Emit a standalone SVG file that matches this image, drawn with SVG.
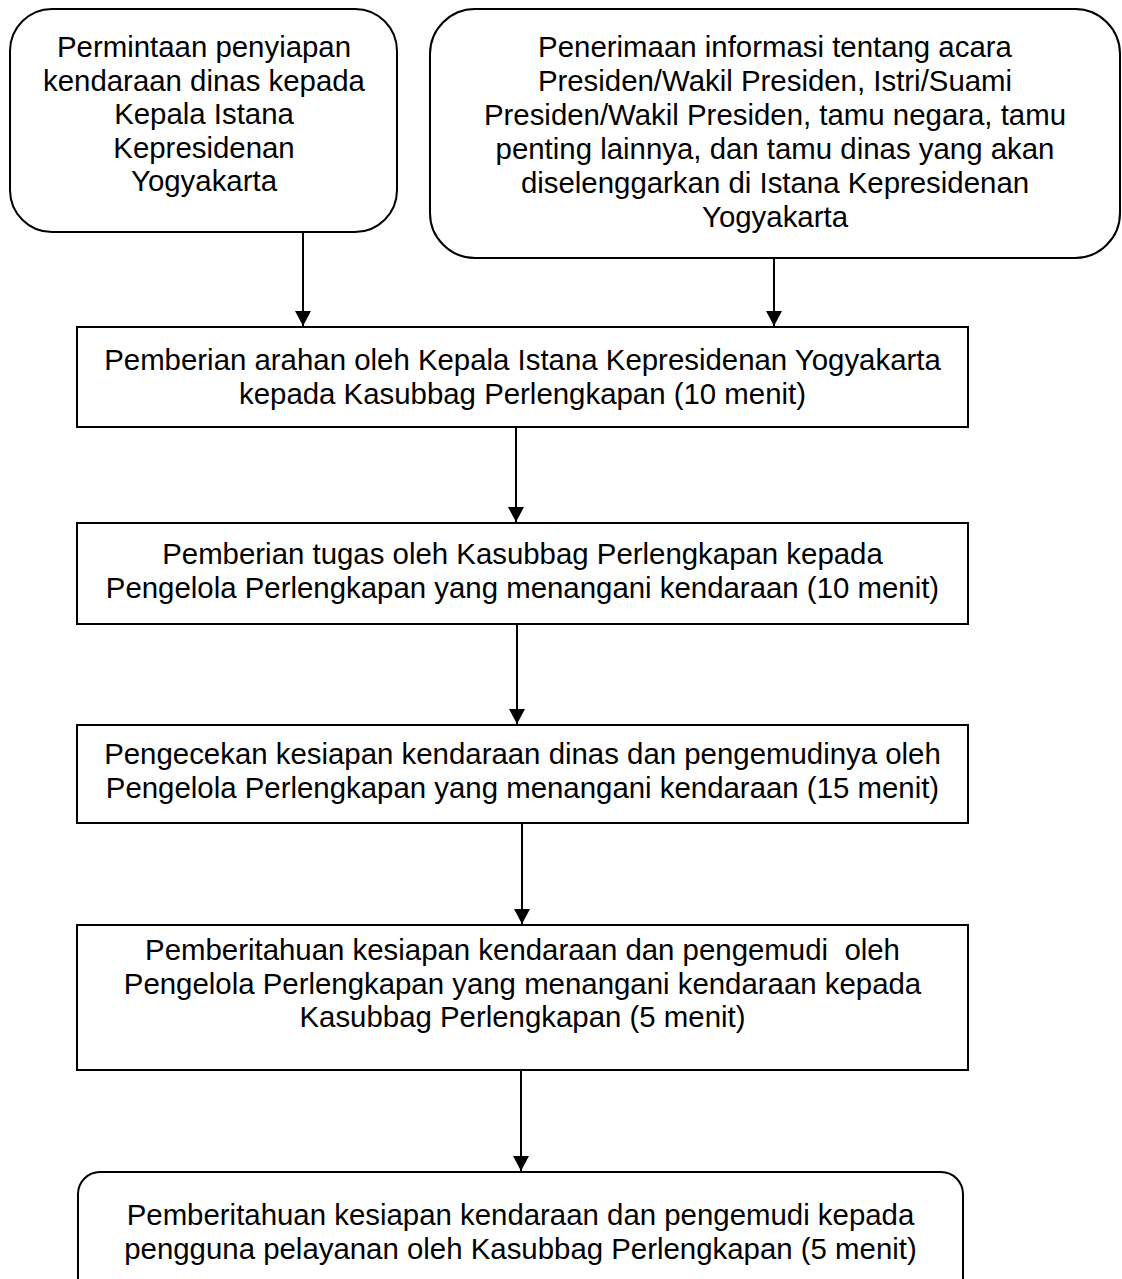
<svg xmlns="http://www.w3.org/2000/svg" width="1122" height="1279" viewBox="0 0 1122 1279">
<style>
.box{fill:#fff;stroke:#000;stroke-width:2}
.t{font-family:"Liberation Sans",Arial,sans-serif;font-size:29.4px;fill:#000;text-anchor:middle;white-space:pre}
.c{stroke:#000;stroke-width:2;fill:none}
</style>
<defs>
<marker id="ah" viewBox="0 0 15 16" refX="15" refY="8" markerWidth="15" markerHeight="16" markerUnits="userSpaceOnUse" orient="auto">
<path d="M0,0 L15,8 L0,16 Z" fill="#000"/>
</marker>
</defs>
<rect width="1122" height="1279" fill="#fff"/>
<g id="n1">
<rect class="box" x="10" y="9" width="387" height="223" rx="42" ry="42"/>
<text class="t" x="204" y="57">Permintaan penyiapan</text>
<text class="t" x="204" y="90.5">kendaraan dinas kepada</text>
<text class="t" x="204" y="124">Kepala Istana</text>
<text class="t" x="204" y="157.5">Kepresidenan</text>
<text class="t" x="204" y="191">Yogyakarta</text>
</g>
<g id="n2">
<rect class="box" x="430" y="9" width="690" height="249" rx="45" ry="45"/>
<text class="t" x="775" y="57">Penerimaan informasi tentang acara</text>
<text class="t" x="775" y="91">Presiden/Wakil Presiden, Istri/Suami</text>
<text class="t" x="775" y="125">Presiden/Wakil Presiden, tamu negara, tamu</text>
<text class="t" x="775" y="159">penting lainnya, dan tamu dinas yang akan</text>
<text class="t" x="775" y="193">diselenggarkan di Istana Kepresidenan</text>
<text class="t" x="775" y="227">Yogyakarta</text>
</g>
<g id="n3">
<rect class="box" x="77" y="327" width="891" height="100"/>
<text class="t" x="522.5" y="370">Pemberian arahan oleh Kepala Istana Kepresidenan Yogyakarta</text>
<text class="t" x="522.5" y="403.5">kepada Kasubbag Perlengkapan (10 menit)</text>
</g>
<g id="n4">
<rect class="box" x="77" y="523" width="891" height="101"/>
<text class="t" x="522.5" y="564">Pemberian tugas oleh Kasubbag Perlengkapan kepada</text>
<text class="t" x="522.5" y="597.5">Pengelola Perlengkapan yang menangani kendaraan (10 menit)</text>
</g>
<g id="n5">
<rect class="box" x="77" y="725" width="891" height="98"/>
<text class="t" x="522.5" y="764">Pengecekan kesiapan kendaraan dinas dan pengemudinya oleh</text>
<text class="t" x="522.5" y="797.5">Pengelola Perlengkapan yang menangani kendaraan (15 menit)</text>
</g>
<g id="n6">
<rect class="box" x="77" y="925" width="891" height="145"/>
<text class="t" x="522.5" y="960">Pemberitahuan kesiapan kendaraan dan pengemudi  oleh</text>
<text class="t" x="522.5" y="993.5">Pengelola Perlengkapan yang menangani kendaraan kepada</text>
<text class="t" x="522.5" y="1027">Kasubbag Perlengkapan (5 menit)</text>
</g>
<g id="n7">
<rect class="box" x="78" y="1172" width="885" height="140" rx="22" ry="22"/>
<text class="t" x="520.5" y="1225">Pemberitahuan kesiapan kendaraan dan pengemudi kepada</text>
<text class="t" x="520.5" y="1258.5">pengguna pelayanan oleh Kasubbag Perlengkapan (5 menit)</text>
</g>
<g id="connectors">
<line class="c" x1="303" y1="232" x2="303" y2="326" marker-end="url(#ah)"/>
<line class="c" x1="774" y1="258" x2="774" y2="326" marker-end="url(#ah)"/>
<line class="c" x1="516" y1="427" x2="516" y2="522" marker-end="url(#ah)"/>
<line class="c" x1="517" y1="624" x2="517" y2="724" marker-end="url(#ah)"/>
<line class="c" x1="522" y1="823" x2="522" y2="924" marker-end="url(#ah)"/>
<line class="c" x1="521" y1="1070" x2="521" y2="1171" marker-end="url(#ah)"/>
</g>
</svg>
